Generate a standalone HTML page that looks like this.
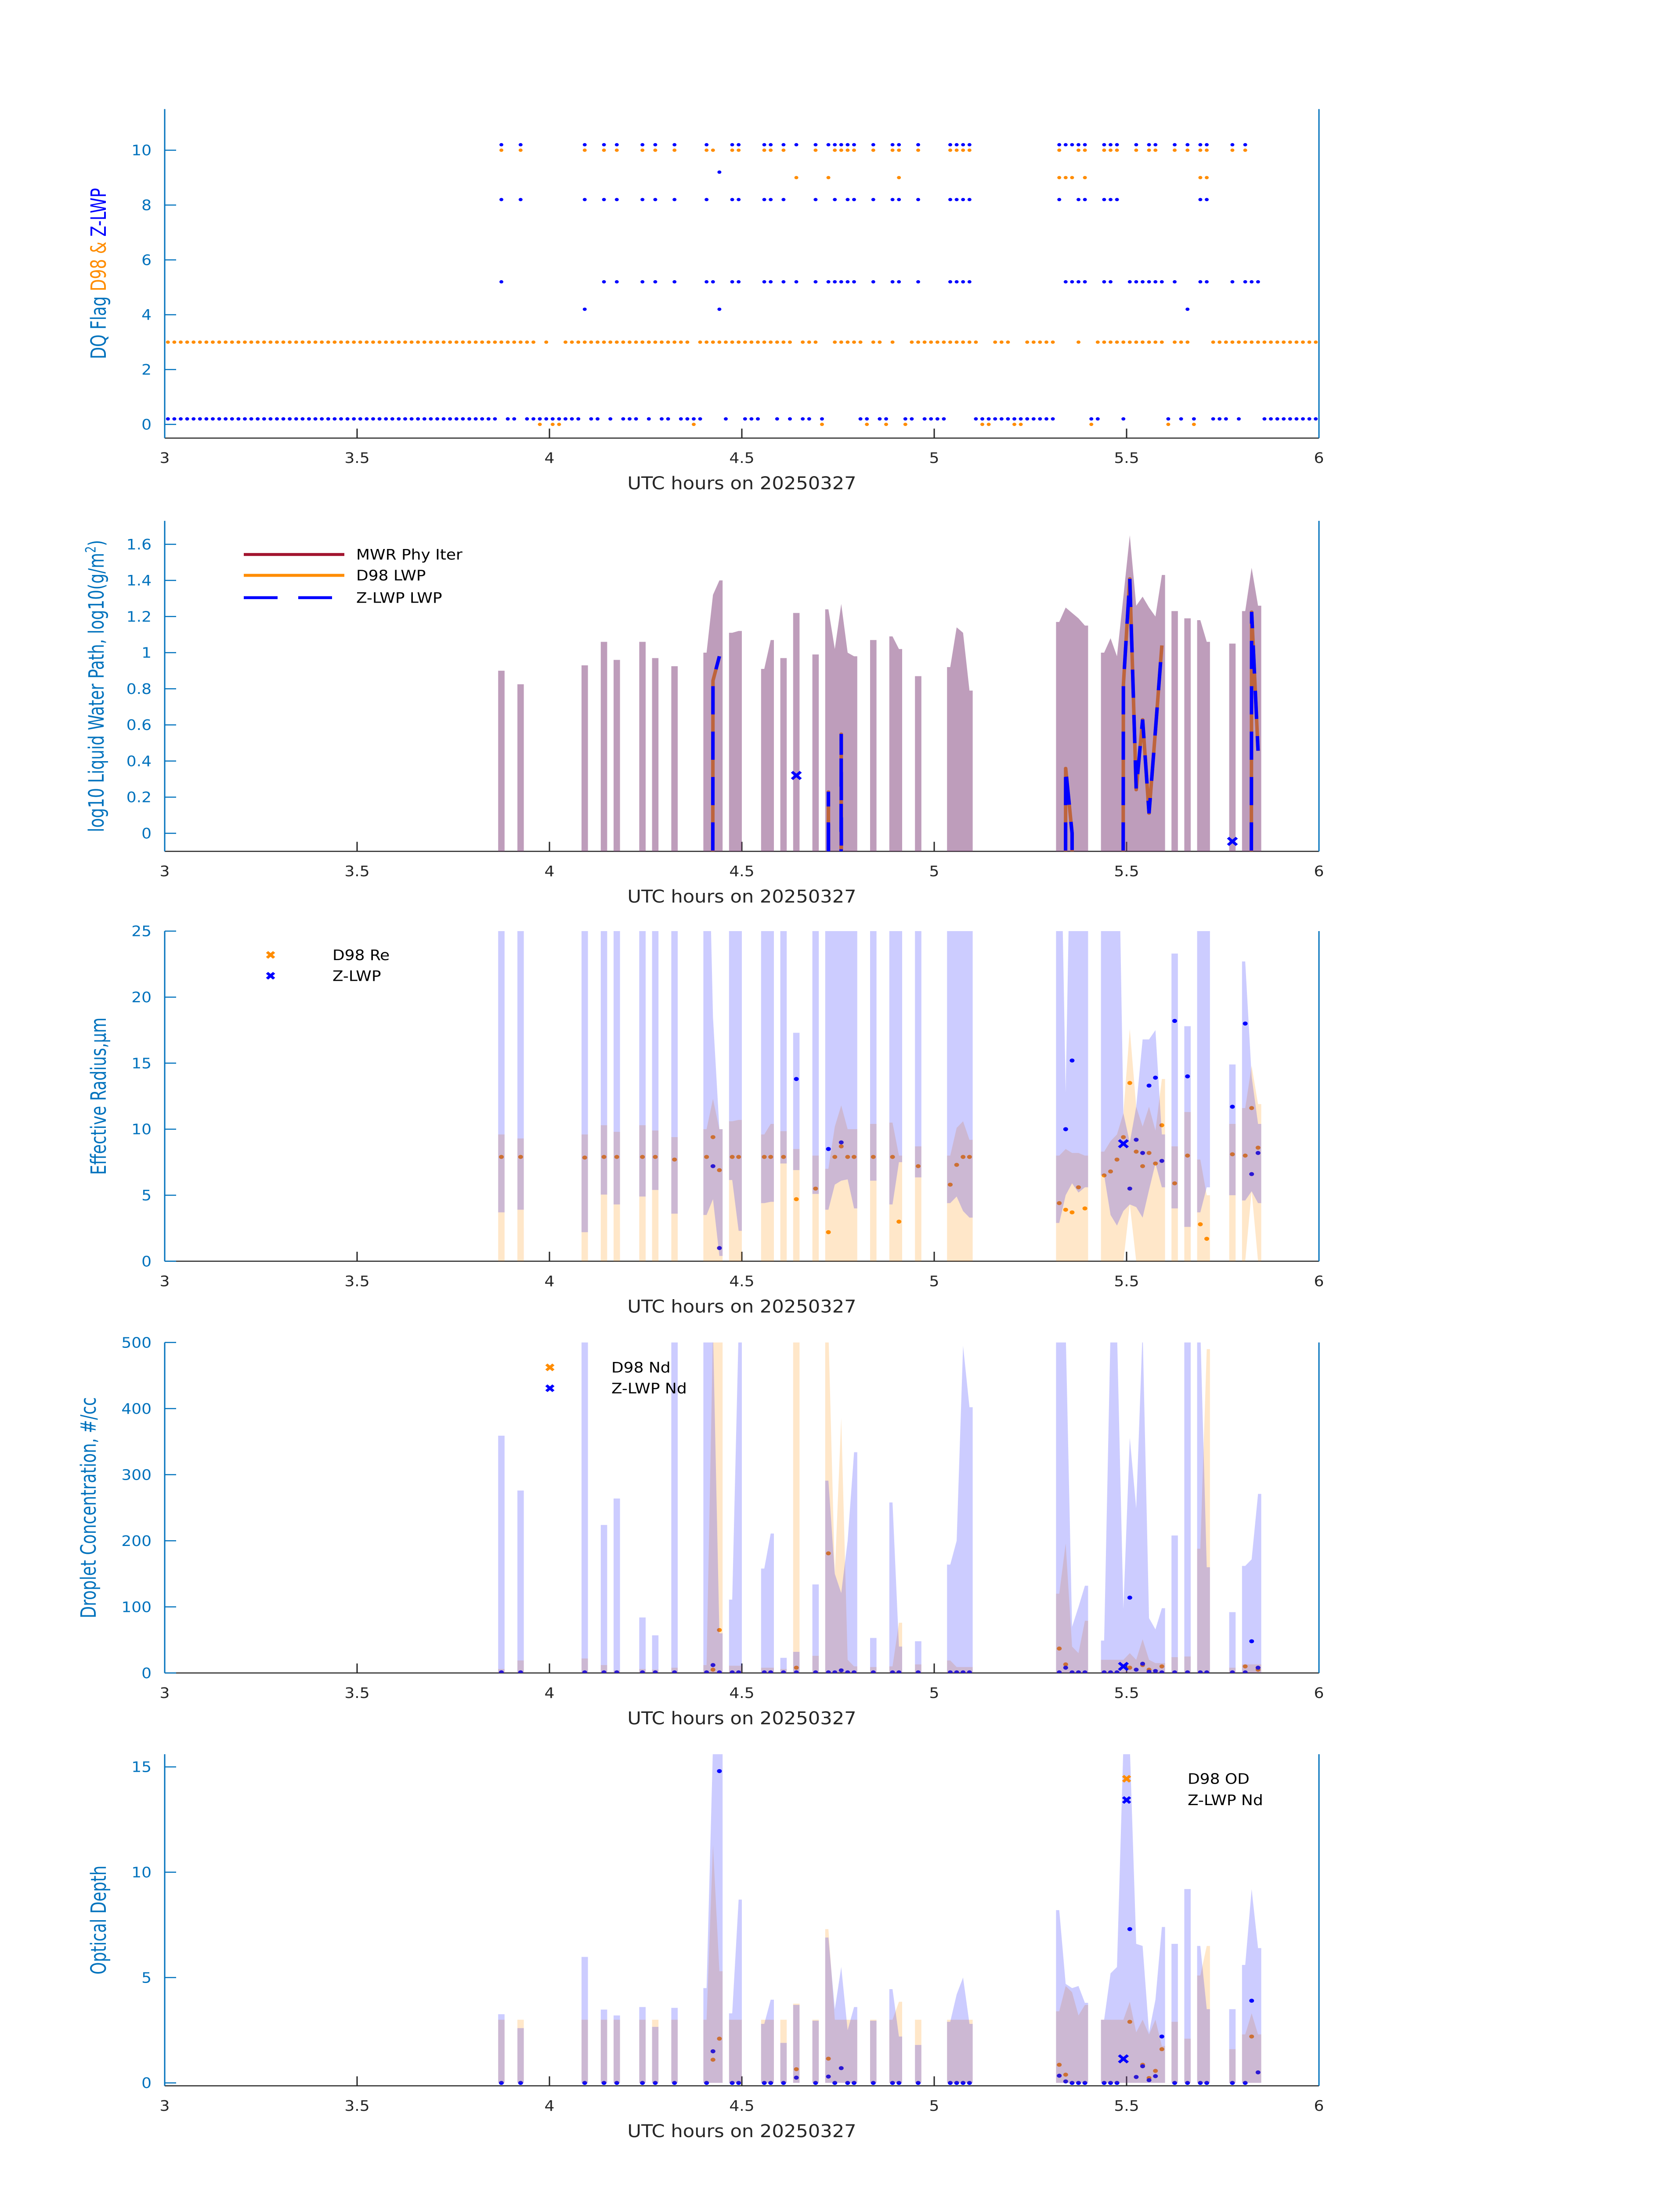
<!DOCTYPE html>
<html><head><meta charset="utf-8">
<style>
html,body{margin:0;padding:0;background:#fff;width:100%;height:100%;overflow:hidden;}
svg{display:block;width:100vw;height:100vh;font-family:"DejaVu Sans Condensed","DejaVu Sans","Liberation Sans",sans-serif;}
</style></head>
<body>
<svg id="fig" xmlns="http://www.w3.org/2000/svg" viewBox="0 0 3825 6000" preserveAspectRatio="none">
<rect x="0" y="0" width="3825" height="6000" fill="#fff"/>
<defs>
<clipPath id="c0"><rect x="375" y="298" width="2628" height="899"/></clipPath>
<clipPath id="c1"><rect x="375" y="1423" width="2628" height="903"/></clipPath>
<clipPath id="c2"><rect x="375" y="2544" width="2628" height="902"/></clipPath>
<clipPath id="c3"><rect x="375" y="3668" width="2628" height="903"/></clipPath>
<clipPath id="c4"><rect x="375" y="4793" width="2628" height="906"/></clipPath>
</defs>
</svg>
<script>
// ---------- data ----------
const xTickVals=[3,3.5,4,4.5,5,5.5,6];
const xTickLabels=["3","3.5","4","4.5","5","5.5","6"];
// panel 1 : DQ flags (minute index since 03:00 UTC)
const d98Flag10=[52,55,65,68,70,74,76,79,84,85,88,89,93,94,96,101,104,105,106,107,110,113,114,117,122,123,124,125,139,142,143,146,147,148,151,153,154,157,159,161,162,166,168];
const d98Flag9=[98,103,114,139,140,141,143,161,162];
const d98Flag3Ranges=[[0,57],[59,59],[62,81],[83,97],[99,101],[104,108],[110,111],[113,113],[116,126],[129,131],[134,138],[142,142],[145,155],[157,159],[163,179]];
const d98Flag0=[58,60,61,82,102,109,112,115,127,128,132,133,144,156,160];
const zFlag10=[52,55,65,68,70,74,76,79,84,88,89,93,94,96,98,101,103,104,105,106,107,110,113,114,117,122,123,124,125,139,140,141,142,143,146,147,148,151,153,154,157,159,161,162,166,168];
const zFlag9=[86];
const zFlag8=[52,55,65,68,70,74,76,79,84,88,89,93,94,96,101,104,106,107,110,113,114,117,122,123,124,125,139,142,143,146,147,148,161,162];
const zFlag5=[52,68,70,74,76,79,84,85,88,89,93,94,96,98,101,103,104,105,106,107,110,113,114,117,122,123,124,125,140,141,142,143,146,147,150,151,152,153,154,155,157,161,162,166,168,169,170];
const zFlag4=[65,86,159];
const zFlag0Ranges=[[0,51],[53,54],[56,64],[66,67],[69,69],[71,73],[75,75],[77,78],[80,83],[87,87],[90,92],[95,95],[97,97],[99,100],[102,102],[108,109],[111,112],[115,116],[118,121],[126,138],[144,145],[149,149],[156,156],[158,158],[160,160],[163,165],[167,167],[171,179]];
// cloudy minutes shared by panels 2-5
const cloudMin=[52,55,65,68,70,74,76,79,84,85,86,88,89,93,94,96,98,101,103,104,105,106,107,110,113,114,117,122,123,124,125,139,140,141,142,143,146,147,148,149,150,151,152,153,154,155,157,159,161,162,166,168,169,170];
// panel 2 : log10 LWP
const mwrHi=[0.90,0.825,0.93,1.06,0.96,1.06,0.97,0.925,1.0,1.32,1.40,1.11,1.12,0.91,1.07,0.97,1.22,0.99,1.24,1.02,1.27,1.0,0.98,1.07,1.09,1.02,0.87,0.92,1.14,1.11,0.79,1.17,1.25,1.22,1.19,1.15,1.0,1.08,0.98,1.31,1.65,1.26,1.31,1.25,1.20,1.43,1.23,1.19,1.18,1.06,1.05,1.23,1.47,1.26];
const lineMin=[84,85,86,102,103,104,105,106,139,140,141,142,148,149,150,151,152,153,154,155,168,169,170];
const d98Lwp=[-30,0.845,0.98,-30,0.23,-30,0.55,-30,-30,0.36,0.0,-30,-30,0.82,1.41,0.24,0.63,0.11,0.57,1.04,-30,1.226,0.457];
const zLwp=[-30,0.845,0.98,-30,0.23,-30,0.55,-30,-30,0.36,0.0,-30,-30,0.82,1.41,0.24,0.63,0.11,0.57,1.04,-30,1.226,0.457];
const zLwpXMin=[98,166];
const zLwpXVal=[0.32,-0.045];
// panel 3 : effective radius
const reBLo=[3.7,3.9,2.2,5.05,4.3,4.9,5.4,3.6,3.5,4.7,0.4,6.15,2.3,4.4,4.5,7.4,6.9,5.1,3.9,5.8,6.1,6.2,4.0,6.1,4.3,7.5,6.35,4.4,4.9,3.8,3.3,2.9,5.0,5.9,5.2,5.6,6.5,3.5,2.7,3.8,4.3,4.1,3.3,5.4,7.4,5.6,4.0,2.6,3.7,5.6,5.0,4.6,5.3,4.4];
const reBHi=[40,40,40,40,40,40,40,40,40,18.5,10.0,40,40,40,40,40,17.3,40,40,40,40,40,40,40,40,40,40,40,40,40,40,40,12.8,40,40,40,40,40,40,11.2,9.0,11.7,16.8,16.8,17.5,9.6,23.3,17.8,40,40,14.9,22.7,14.0,10.4];
const reOLo=[0,0,0,0,0,0,0,0,0,0,0,0,0,0,0,0,0,0,0,0,0,0,0,0,0,0,0,0,0,0,0,0,0,0,0,0,0,0,0,0,4.3,0,0,0,0,0,0,0,0,0,0,0,5.3,0];
const reOHi=[9.6,9.3,9.6,10.3,9.8,10.3,9.9,9.4,10.0,12.3,10.0,10.6,10.7,9.6,10.4,9.85,8.5,8.0,7.0,10.2,11.8,10,10,10.4,10.5,8.0,8.7,8.0,10.1,10.6,9.2,8.0,8.5,8.2,8.2,8.0,8.3,9.1,9.6,11.2,17.6,11.7,10.2,11.7,9.9,13.8,8.7,11.3,7.7,5.0,10.4,11.6,14.8,11.9];
const reD98=[7.9,7.9,7.85,7.9,7.9,7.9,7.9,7.7,7.9,9.4,6.9,7.9,7.9,7.9,7.9,7.9,4.7,5.5,2.2,7.9,8.7,7.9,7.9,7.9,7.9,3.0,7.2,5.8,7.3,7.9,7.9,4.4,3.9,3.7,5.6,4.0,6.5,6.8,7.7,9.4,13.5,8.3,7.2,8.2,7.4,10.3,5.9,8.0,2.8,1.7,8.1,8.0,11.6,8.6];
const reZ=[null,null,null,null,null,null,null,null,null,7.2,1.0,null,null,null,null,null,13.8,null,8.5,null,9.0,null,null,null,null,null,null,null,null,null,null,null,10.0,15.2,null,null,null,null,null,null,5.5,9.2,8.2,13.3,13.9,7.6,18.2,14.0,null,null,11.7,18.0,6.6,8.2];
const reXMin=[149];
const reXVal=[8.9];
// panel 4 : droplet concentration
const ndBHi=[359,276,520,224,264,84,57,520,520,520,60,111,520,158,211,23,32,134,291,150,121,200,334,53,258,40,48,164,200,495,402,520,520,70,100,132,49,520,520,97,356,249,520,83,66,98,208,520,520,160,92,162,172,271];
const ndOHi=[6,19,22,12,4,6,5,8,12,520,520,11,11,8,8,6,520,26,520,150,386,20,10,9,10,76,13,19,9,9,9,120,196,40,30,79,20,20,20,20,30,20,51,20,15,15,24,25,188,490,8,13,13,13];
const ndD98=[null,null,null,null,null,null,null,null,null,5,65,null,null,null,null,null,8,null,181,null,null,null,null,null,null,null,null,null,null,null,null,37,13,null,null,null,null,null,null,null,8,null,12,5,null,10,null,null,null,null,null,10,null,5];
const ndZ=[1,1,1,1,1,1,1,1,1,12,1,1,1,1,1,1,1,1,1,1,4,1,1,1,1,1,1,1,1,1,1,1,8,1,1,1,1,1,1,null,114,5,14,2,3,1,1,1,1,1,1,1,48,8];
const ndXMin=[149];
const ndXVal=[10];
// panel 5 : optical depth
const odBHi=[3.26,2.6,5.98,3.48,3.2,3.6,2.66,3.56,4.5,16,16,3.3,8.7,2.8,3.95,1.9,3.7,2.95,6.9,3.5,5.5,2.5,3.6,2.95,4.45,2.2,1.8,2.9,4.2,5.0,2.8,8.2,4.7,4.5,4.6,3.8,3.0,5.2,5.5,16,16,6.6,6.5,2.4,3.95,7.4,6.6,9.2,6.5,3.5,3.5,5.6,9.2,6.4];
const odOHi=[3.0,3.0,3.0,3.0,3.0,3.0,3.0,3.0,3.0,11.3,5.3,3.0,3.0,3.0,3.0,3.0,3.76,3.0,7.3,3.0,3.0,3.0,3.0,3.0,3.0,3.85,3.0,3.0,3.0,3.0,3.0,3.4,4.6,4.3,3.2,3.7,3.0,3.0,3.0,3.0,3.85,2.4,3.0,2.3,3.0,1.75,2.9,2.1,5.1,6.5,1.6,2.3,3.3,2.3];
const odD98=[null,null,null,null,null,null,null,null,null,1.1,2.1,null,null,null,null,null,0.65,null,1.15,null,null,null,null,null,null,null,null,null,null,null,null,0.86,0.39,null,null,null,null,null,null,null,2.9,null,0.86,0.23,0.57,1.6,null,null,null,null,null,null,2.2,null];
const odZ=[0,0,0,0,0,0,0,0,0,1.5,14.8,0,0,0,0,0,0.25,0,0.3,0,0.7,0,0,0,0,0,0,0,0,0,0,0.34,0.07,0,0,0,0,0,0,null,7.3,0.28,0.79,0.13,0.32,2.2,0,0,0,0,0,0,3.9,0.5];
const odXMin=[149];
const odXVal=[1.14];

// ---------- drawing ----------
const ns='http://www.w3.org/2000/svg';
const svg=document.getElementById('fig');
function mk(tag,attrs,parent){const e=document.createElementNS(ns,tag);for(const k in attrs)e.setAttribute(k,attrs[k]);parent.appendChild(e);return e;}
const X0=375,XW=2628;
function sx(m){return X0+m/180*XW;}
function hx(h){return X0+(h-3)/3*XW;}
const P=[
 {top:298,bot:1197,ymin:-0.5,ymax:11.5,ticks:[0,2,4,6,8,10],tl:["0","2","4","6","8","10"],ylx:241},
 {top:1423,bot:2326,ymin:-0.1,ymax:1.73,ticks:[0,0.2,0.4,0.6,0.8,1,1.2,1.4,1.6],tl:["0","0.2","0.4","0.6","0.8","1","1.2","1.4","1.6"],ylx:236},
 {top:2544,bot:3446,ymin:0,ymax:25,ticks:[0,5,10,15,20,25],tl:["0","5","10","15","20","25"],ylx:241},
 {top:3668,bot:4571,ymin:0,ymax:500,ticks:[0,100,200,300,400,500],tl:["0","100","200","300","400","500"],ylx:218},
 {top:4793,bot:5699,ymin:-0.14,ymax:15.6,ticks:[0,5,10,15],tl:["0","5","10","15"],ylx:241}
];
function sy(p,v){return p.bot-(v-p.ymin)/(p.ymax-p.ymin)*(p.bot-p.top);}
function expand(r){const o=[];r.forEach(a=>{for(let i=a[0];i<=a[1];i++)o.push(i);});return o;}
function runs(mins){const out=[];let cur=[];mins.forEach((m,k)=>{if(cur.length&&m!==mins[cur[cur.length-1]]+1){out.push(cur);cur=[];}cur.push(k);});if(cur.length)out.push(cur);return out;}
function bandPath(p,mins,lo,hi){let d='';runs(mins).forEach(r=>{const top=[],bot=[];const f=r[0],l=r[r.length-1];
 top.push([sx(mins[f]),sy(p,hi[f])]);r.forEach(k=>top.push([sx(mins[k]+0.5),sy(p,hi[k])]));top.push([sx(mins[l]+1),sy(p,hi[l])]);
 bot.push([sx(mins[f]),sy(p,lo[f])]);r.forEach(k=>bot.push([sx(mins[k]+0.5),sy(p,lo[k])]));bot.push([sx(mins[l]+1),sy(p,lo[l])]);
 const pts=top.concat(bot.reverse());d+='M'+pts.map(q=>q[0].toFixed(1)+','+q[1].toFixed(1)).join('L')+'Z';});return d;}
function linePath(p,mins,vals){let d='';runs(mins).forEach(r=>{d+='M'+r.map(k=>sx(mins[k]+0.5).toFixed(1)+','+sy(p,vals[k]).toFixed(1)).join('L');});return d;}
function xMark(g,cx,cy,s,col,w){return mk('path',{d:`M${cx-s},${cy-s}L${cx+s},${cy+s}M${cx-s},${cy+s}L${cx+s},${cy-s}`,stroke:col,'stroke-width':w,fill:'none'},g);}

const BLUEAX='#0072BD', DARK='#262626', ORG='#FF8C00';

P.forEach((p,pi)=>{
 const g=mk('g',{},svg);
 
 
 const bl=mk('line',{x1:X0,y1:p.bot,x2:X0+XW,y2:p.bot,stroke:DARK,'stroke-width':3},g);
 
 
 xTickVals.forEach((h,i)=>{
  const t=mk('line',{x1:hx(h),y1:p.bot,x2:hx(h),y2:p.bot-26,stroke:DARK,'stroke-width':3},g);
  
  
  const tx=mk('text',{x:hx(h),y:p.bot+68,'font-size':40,fill:DARK,'text-anchor':'middle'},g);
  
  
  tx.textContent=xTickLabels[i];
 });
 const xl=mk('text',{x:X0+XW/2,y:p.bot+140,'font-size':48,fill:DARK,'text-anchor':'middle'},g);
 
 
 xl.textContent='UTC hours on 20250327';
 const ll=mk('line',{x1:X0,y1:p.top,x2:X0,y2:p.bot,stroke:BLUEAX,'stroke-width':3},g);
 
 
 const rl=mk('line',{x1:X0+XW,y1:p.top,x2:X0+XW,y2:p.bot,stroke:BLUEAX,'stroke-width':3},g);
 
 
 p.ticks.forEach((v,i)=>{
  const y=sy(p,v);
  const t=mk('line',{x1:X0,y1:y,x2:X0+26,y2:y,stroke:BLUEAX,'stroke-width':3},g);
  
  
  const tx=mk('text',{x:345,y:y+14,'font-size':40,fill:BLUEAX,'text-anchor':'end'},g);
  
  
  tx.textContent=p.tl[i];
 });
});

function ytitle(p,parts,name){
 const cy=(p.top+p.bot)/2;
 const t=mk('text',{x:p.ylx,y:cy,'font-size':48,'text-anchor':'middle',transform:`rotate(-90 ${p.ylx} ${cy})`},svg);
 
 
 parts.forEach(q=>{const s=mk('tspan',{fill:q[1]},t);if(q[2])s.setAttribute('baseline-shift','super');if(q[2])s.setAttribute('font-size','32');s.textContent=q[0];});
}
ytitle(P[0],[['DQ Flag  ',BLUEAX],['D98 & ',ORG],[' Z-LWP','#0000FF']],'y-axis-title-dq-flag');
ytitle(P[1],[['log10 Liquid Water Path, log10(g/m',BLUEAX],['2',BLUEAX,true],[')',BLUEAX]],'y-axis-title-lwp');
ytitle(P[2],[['Effective Radius,\u03bcm',BLUEAX]],'y-axis-title-re');
ytitle(P[3],[['Droplet Concentration, #/cc',BLUEAX]],'y-axis-title-nd');
ytitle(P[4],[['Optical Depth',BLUEAX]],'y-axis-title-od');

// ---- panel 1 ----
{
 const p=P[0];const g=mk('g',{'clip-path':'url(#c0)'},svg);
 
 
 const od=[[d98Flag10,10],[d98Flag9,9],[expand(d98Flag3Ranges),3],[d98Flag0,0]];
 od.forEach(s=>{s[0].forEach(m=>{
  const c=mk('circle',{cx:sx(m+0.5),cy:sy(p,s[1]),r:4.5,fill:ORG},g);
  
  
 });});
 const zd=[[zFlag10,10],[zFlag9,9],[zFlag8,8],[zFlag5,5],[zFlag4,4],[expand(zFlag0Ranges),0]];
 zd.forEach(s=>{s[0].forEach(m=>{
  const c=mk('circle',{cx:sx(m+0.5),cy:sy(p,s[1]+0.2),r:4.5,fill:'#0000FF'},g);
  
  
 });});
}

// ---- panel 2 ----
{
 const p=P[1];const g=mk('g',{'clip-path':'url(#c1)'},svg);
 
 
 const ol=mk('path',{d:linePath(p,lineMin,d98Lwp),stroke:ORG,'stroke-width':8,fill:'none','stroke-linejoin':'round'},g);
 
 
 const lo=mwrHi.map(()=>-1);
 const b=mk('path',{d:bandPath(p,cloudMin,lo,mwrHi),fill:'rgba(125,60,120,0.5)'},g);
 
 
 const zl=mk('path',{d:linePath(p,lineMin,zLwp),stroke:'#0000FF','stroke-width':8,fill:'none','stroke-dasharray':'77 47'},g);
 
 
 zLwpXMin.forEach((m,i)=>{
  const x=xMark(g,sx(m+0.5),sy(p,zLwpXVal[i]),10,'#0000FF',7);
  
  
 });
 const lg=mk('g',{},svg);
 
 
 const le=[['MWR Phy Iter','#A2142F',null,1515],['D98 LWP',ORG,null,1572],['Z-LWP LWP','#0000FF','77 47',1633]];
 le.forEach(e=>{
  const l=mk('line',{x1:555,y1:e[3],x2:784,y2:e[3],stroke:e[1],'stroke-width':8},lg);
  if(e[2])l.setAttribute('stroke-dasharray',e[2]);
  
  
  const t=mk('text',{x:811,y:e[3]+14,'font-size':40,fill:'#000'},lg);
  
  
  t.textContent=e[0];
 });
}

function retrievalPanel(pi,clip,bLo,bHi,oLo,oHi,d98,z,xMin,xVal,name){
 const p=P[pi];const g=mk('g',{'clip-path':`url(#${clip})`},svg);
 
 
 cloudMin.forEach((m,k)=>{
  if(d98[k]!==null){const c=mk('circle',{cx:sx(m+0.5),cy:sy(p,d98[k]),r:5.5,fill:ORG},g);
   
   }
  if(z[k]!==null){const c=mk('circle',{cx:sx(m+0.5),cy:sy(p,z[k]),r:5.5,fill:'#0000FF'},g);
   
   }
 });
 const ob=mk('path',{d:bandPath(p,cloudMin,oLo,oHi),fill:'rgba(255,140,0,0.21)'},g);
 
 
 const bb=mk('path',{d:bandPath(p,cloudMin,bLo,bHi),fill:'rgba(0,0,255,0.2)'},g);
 
 
 xMin.forEach((m,i)=>{
  const x=xMark(g,sx(m+0.5),sy(p,xVal[i]),10,'#0000FF',7);
  
  
 });
}
const zeros=cloudMin.map(()=>0);
retrievalPanel(2,'c2',reBLo,reBHi,reOLo,reOHi,reD98,reZ,reXMin,reXVal,'re');
retrievalPanel(3,'c3',zeros,ndBHi,zeros,ndOHi,ndD98,ndZ,ndXMin,ndXVal,'nd');
retrievalPanel(4,'c4',zeros,odBHi,zeros,odOHi,odD98,odZ,odXMin,odXVal,'od');

function markLegend(x,y1,y2,tx,l1,l2,name){
 const g=mk('g',{},svg);
 
 
 const a=xMark(g,x,y1,8,ORG,7);
 
 
 const b=xMark(g,x,y2,8,'#0000FF',7);
 
 
 const t1=mk('text',{x:tx,y:y1+14,'font-size':40,fill:'#000'},g);
 
 
 t1.textContent=l1;
 const t2=mk('text',{x:tx,y:y2+14,'font-size':40,fill:'#000'},g);
 
 
 t2.textContent=l2;
}
markLegend(616,2609,2666,757,'D98 Re','Z-LWP','legend-re');
markLegend(1252,3736,3793,1392,'D98 Nd','Z-LWP Nd','legend-nd');
markLegend(2565,4860,4918,2704,'D98 OD','Z-LWP Nd','legend-od');
</script>
</body></html>
